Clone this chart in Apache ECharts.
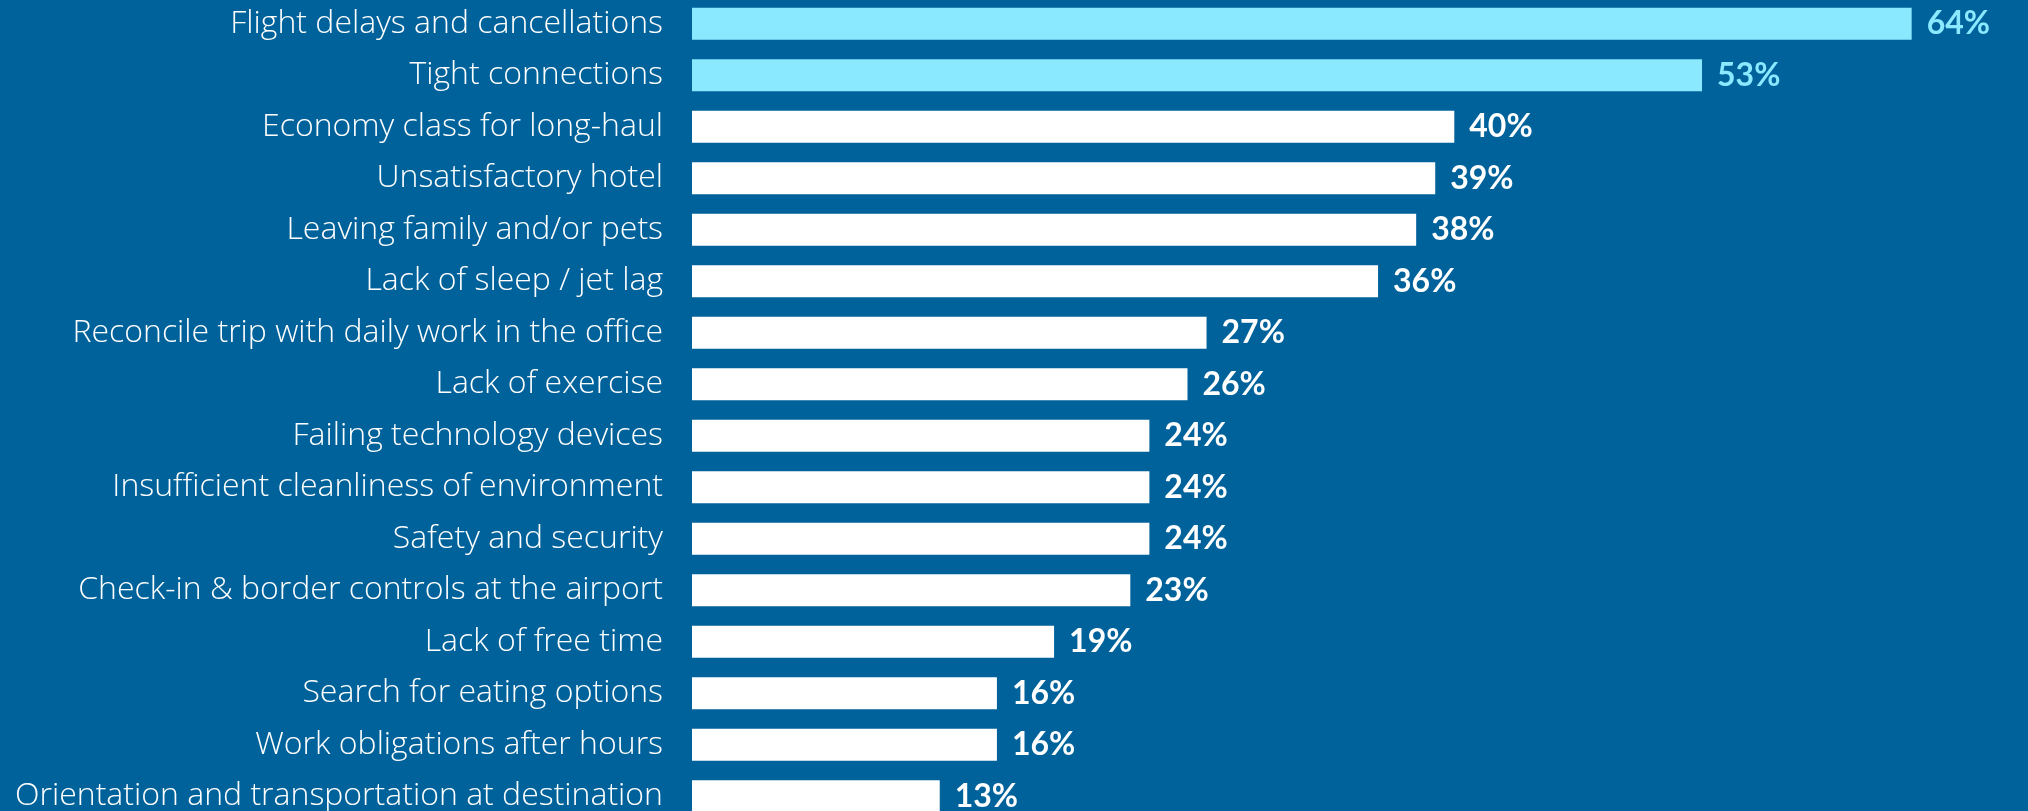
<!DOCTYPE html>
<html>
<head>
<meta charset="utf-8">
<script src="https://cdn.jsdelivr.net/npm/echarts@6/dist/echarts.min.js"></script>
<style>
  html, body { margin: 0; padding: 0; background: #00629b; }
  #chart { width: 2028px; height: 811px; }
</style>
</head>
<body>
<div id="chart"></div>
<script>
// Biggest pain points of business travel (share of respondents, %)
const categories = [
  'Flight delays and cancellations',
  'Tight connections',
  'Economy class for long-haul',
  'Unsatisfactory hotel',
  'Leaving family and/or pets',
  'Lack of sleep / jet lag',
  'Reconcile trip with daily work in the office',
  'Lack of exercise',
  'Failing technology devices',
  'Insufficient cleanliness of environment',
  'Safety and security',
  'Check-in & border controls at the airport',
  'Lack of free time',
  'Search for eating options',
  'Work obligations after hours',
  'Orientation and transportation at destination'
];
const values = [64, 53, 40, 39, 38, 36, 27, 26, 24, 24, 24, 23, 19, 16, 16, 13];
// the two top items are highlighted
const highlightCount = 2;

const BG = '#00629b';
const HIGHLIGHT = '#8ae9ff';
const NORMAL = '#ffffff';

const seriesData = values.map((v, i) => {
  const c = i < highlightCount ? HIGHLIGHT : NORMAL;
  return {
    value: v,
    itemStyle: { color: c },
    label: { color: c }
  };
});

const chart = echarts.init(document.getElementById('chart'), null, { renderer: 'canvas' });
chart.setOption({
  backgroundColor: BG,
  animation: false,
  grid: {
    left: 692, width: 1334, top: -2, height: 824,
    containLabel: false,
    outerBoundsMode: 'none'
  },
  xAxis: {
    type: 'value',
    min: 0,
    max: 70,
    show: false
  },
  yAxis: {
    type: 'category',
    data: categories,
    inverse: true,
    axisLine: { show: false },
    axisTick: { show: false },
    splitLine: { show: false },
    axisLabel: {
      color: '#ffffff',
      fontFamily: 'Open Sans',
      fontWeight: 300,
      fontSize: 32,
      margin: 29,
      padding: [5, 0, 0, 0]
    }
  },
  series: [{
    type: 'bar',
    data: seriesData,
    barWidth: 32,
    label: {
      show: true,
      position: 'right',
      distance: 15,
      fontFamily: 'Lato',
      fontWeight: 700,
      fontSize: 32,
      padding: [4, 0, 0, 0],
      formatter: p => p.value + '%'
    }
  }]
});
</script>
</body>
</html>
